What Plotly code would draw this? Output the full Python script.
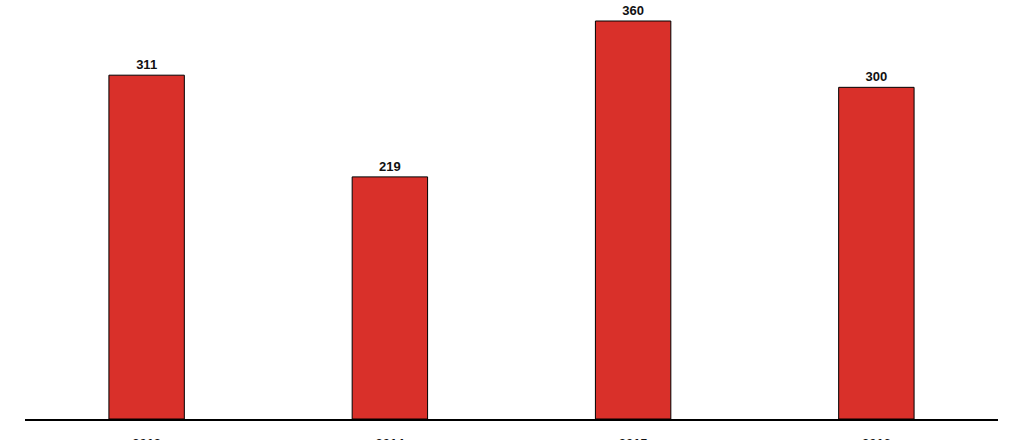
import plotly.graph_objects as go

years = ["2013", "2014", "2015", "2016"]
counts = [311, 219, 360, 300]

fig = go.Figure()
fig.add_trace(go.Bar(
    x=years,
    y=counts,
    text=[str(v) for v in counts],
    textposition="outside",
    textfont=dict(family="Liberation Sans", size=13, color="#111111", weight="bold"),
    marker=dict(color="#D9302A", line=dict(color="#000000", width=1)),
    width=0.31,
    cliponaxis=False,
))

fig.update_layout(
    width=1024,
    height=440,
    margin=dict(l=25, r=26, t=0, b=21),
    plot_bgcolor="white",
    paper_bgcolor="white",
    showlegend=False,
    font=dict(family="Liberation Sans"),
)
fig.update_xaxes(
    showline=True, linecolor="#000000", linewidth=1.5,
    ticks="", ticklabelstandoff=12, automargin=False,
    tickfont=dict(family="Liberation Sans", size=13, color="#111111", weight="bold"),
)
fig.update_yaxes(
    range=[0, 379], visible=False, showgrid=False, zeroline=False,
    automargin=False,
)

# drop the default 8px body margin so the chart fills the window
fig.write_html("out.html", config={"displayModeBar": False},
               post_script="document.body.style.margin='0';")
